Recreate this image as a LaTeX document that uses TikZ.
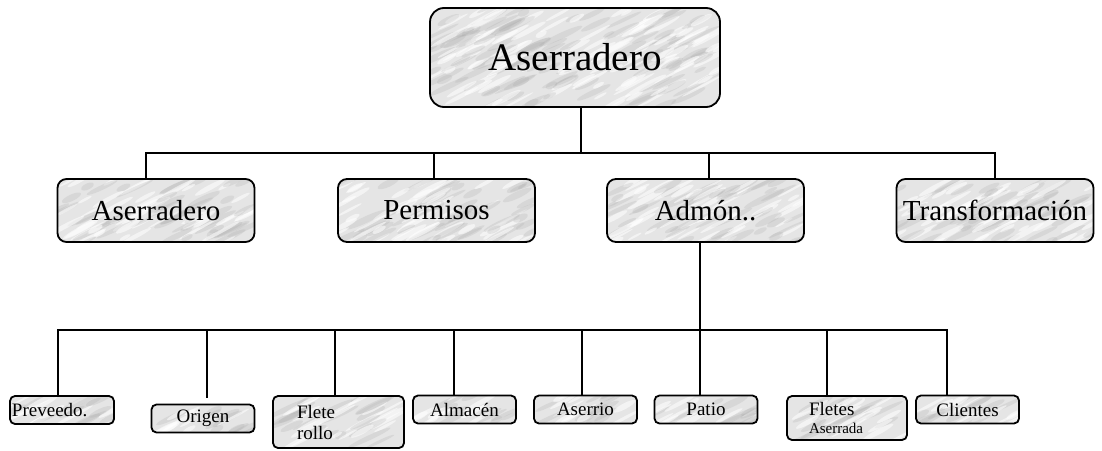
\documentclass[tikz,border=0pt]{standalone}
\usepackage{fontspec}
\setmainfont{Liberation Serif}
\begin{document}
\begin{tikzpicture}[x=1pt,y=-1pt,
  marble/.style={path picture={\pgfmathsetseed{#1}
    \pgfmathsetmacro\ww{\pgfkeysvalueof{/pgf/minimum width}}\pgfmathsetmacro\hh{\pgfkeysvalueof{/pgf/minimum height}}
    \pgfmathtruncatemacro\nn{\ww/250*\hh}
    \foreach \k in {1,...,\nn}{\pgfmathsetmacro\rx{rand*\ww/2}\pgfmathsetmacro\ry{rand*\hh/2}\pgfmathsetmacro\ra{6+rnd*18}
      \fill[gray!70,opacity=.22]([shift={(\rx,\ry)}]path picture bounding box.center)ellipse[x radius=\ra,y radius=1.5+rnd*2,rotate=25];
      \fill[white,opacity=.55]([shift={(-\rx,\ry)}]path picture bounding box.center)ellipse[x radius=\ra,y radius=1+rnd*2,rotate=28];}}},
  box/.style={draw,line width=1.8pt,fill=gray!20,inner sep=1pt,marble=#1},
  big/.style={box=3,rounded corners=14pt,minimum width=290,minimum height=99,font=\fontsize{39}{41}\selectfont},
  mid/.style={box=#1,rounded corners=9pt,minimum width=197,minimum height=63,font=\fontsize{29}{31}\selectfont},
  low/.style={box=#1,rounded corners=5pt,minimum width=103,minimum height=28,font=\fontsize{19}{21}\selectfont},
  conn/.style={line width=1.5pt}]
\useasboundingbox (0,0) rectangle (1102,450);
\node[big](top) at (575,57.5){Aserradero};
\node[mid=11](aser) at (156,210.5){Aserradero};
\node[mid=12](perm) at (436.5,210.5){Permisos};
\node[mid=13](admon) at (705.5,210.5){Admón..};
\node[mid=14](trans) at (995,210.5){Transformación};
\node[low=21,text width=100,inner xsep=2,align=left](prev) at (62,410){Preveedo.};
\node[low=22](orig) at (203,418.5){Origen};
\node[low=23,minimum height=52,text width=83,inner xsep=24,align=left](flet) at (338.5,422){Flete\\rollo};
\node[low=24](alm) at (464.5,409.5){Almacén};
\node[low=25](aserr) at (585.5,409.5){Aserrio};
\node[low=26](patio) at (706,409.5){Patio};
\node[low=27,minimum height=44,text width=76,inner xsep=22,align=left](fletes) at (847,418){Fletes\\[-3pt]{\fontsize{15}{16}\selectfont Aserrada}};
\node[low=28](cli) at (967.5,409.5){Clientes};
\draw[conn]([xshift=6pt]top.south)--++(0,45)coordinate(b1);
\foreach \n/\dx in {aser/-10,perm/-2.5,admon/3.5,trans/0}{\draw[conn](b1)-|([xshift=\dx pt]\n.north);}
\draw[conn]([xshift=-5.5pt]admon.south)--++(0,87)coordinate(b2);
\foreach \n/\dx/\s in {prev/-4/0,orig/4/6,flet/-3.5/0,alm/-10.5/0,aserr/-3.5/0,patio/-6/0,fletes/-20/0,cli/-20.5/0}{\draw[conn,shorten >=\s pt](b2)-|([xshift=\dx pt]\n.north);}
\end{tikzpicture}
\end{document}
